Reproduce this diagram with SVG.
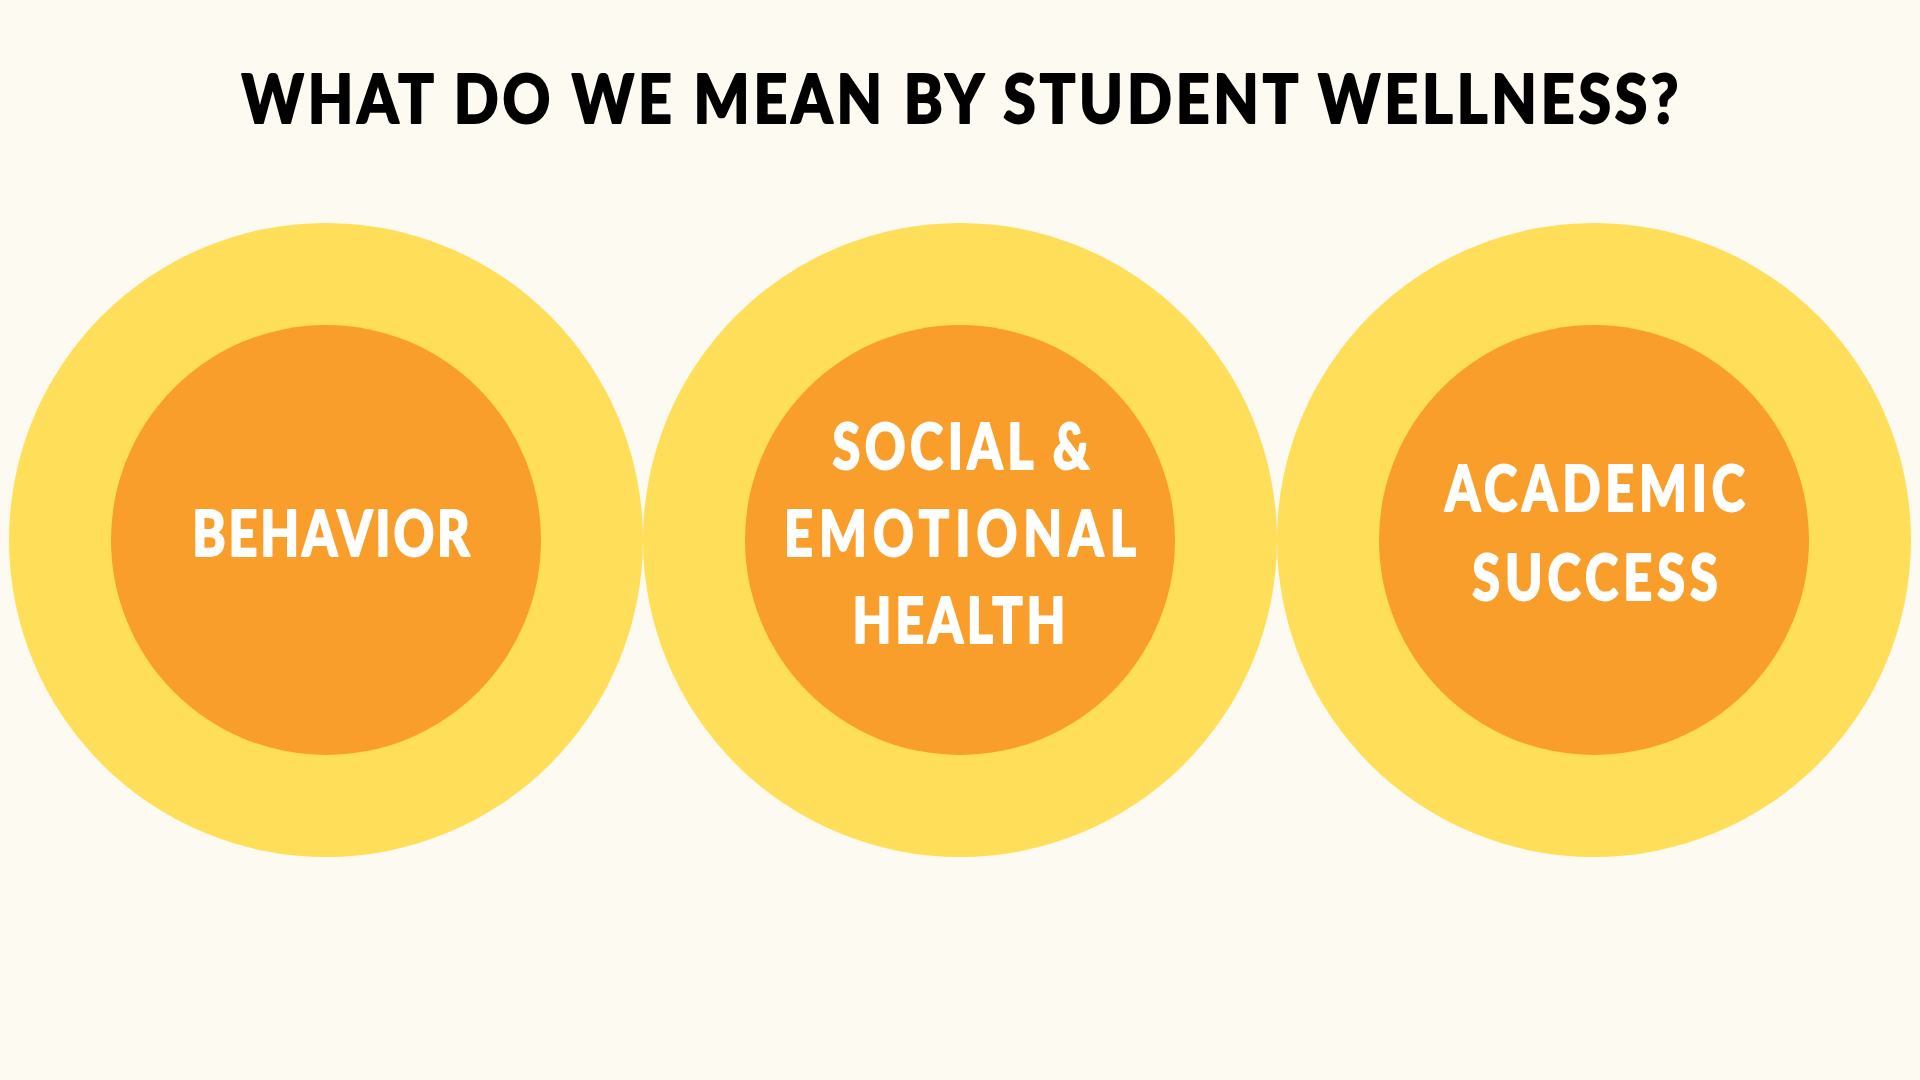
<svg xmlns="http://www.w3.org/2000/svg" width="1920" height="1080" viewBox="0 0 1920 1080">
<style>
.outer{fill:#FFDE59}
.inner{fill:#FA9E2B}
.t{font-family:"Lato","Liberation Sans","DejaVu Sans",sans-serif;font-weight:900;text-anchor:middle;stroke-linejoin:round}
.title{fill:#000;stroke:#000;stroke-width:1.8px;font-size:67px}
.lbl{fill:#FFFFFF;stroke:#FFFFFF;stroke-width:1.8px;font-size:63px}
</style>
<rect width="1920" height="1080" fill="#FDFAF2"/>
<text id="title" class="t title" transform="translate(960,123) scale(0.88,1)" x="0" y="0" textLength="1633" lengthAdjust="spacing">WHAT DO WE MEAN BY STUDENT WELLNESS?</text>
<g id="node-behavior">
<circle class="outer" cx="326" cy="540" r="317"/>
<circle class="inner" cx="326" cy="540" r="215"/>
<text class="t lbl" transform="translate(331,556) scale(0.8,1)" x="0" y="0" textLength="347" lengthAdjust="spacing">BEHAVIOR</text>
</g>
<g id="node-social">
<circle class="outer" cx="960" cy="540" r="317"/>
<circle class="inner" cx="960" cy="540" r="215"/>
<text class="t lbl" transform="translate(961,469) scale(0.8,1)" x="0" y="0" textLength="321" lengthAdjust="spacing">SOCIAL &amp;</text>
<text class="t lbl" transform="translate(960,556) scale(0.8,1)" x="0" y="0" textLength="440" lengthAdjust="spacing">EMOTIONAL</text>
<text class="t lbl" transform="translate(959,643) scale(0.8,1)" x="0" y="0" textLength="266" lengthAdjust="spacing">HEALTH</text>
</g>
<g id="node-academic">
<circle class="outer" cx="1594" cy="540" r="317"/>
<circle class="inner" cx="1594" cy="540" r="215"/>
<text class="t lbl" transform="translate(1595,511) scale(0.8,1)" x="0" y="0" textLength="375" lengthAdjust="spacing">ACADEMIC</text>
<text class="t lbl" transform="translate(1595,600) scale(0.8,1)" x="0" y="0" textLength="307" lengthAdjust="spacing">SUCCESS</text>
</g>
<g id="connectors"/>
</svg>
